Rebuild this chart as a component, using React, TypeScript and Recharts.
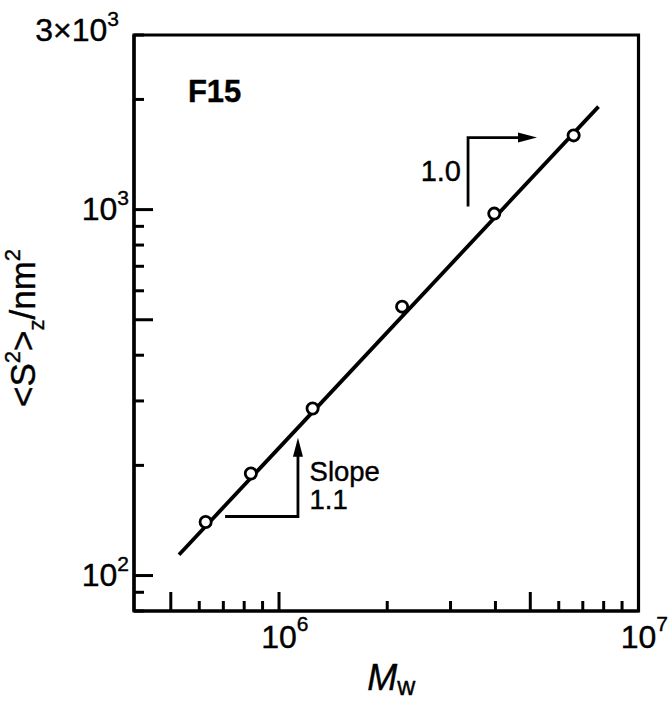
import React from 'react';
import { ScatterChart, Scatter, XAxis, YAxis, ReferenceArea } from 'recharts';

const FONT = '"Liberation Sans", Arial, Helvetica, sans-serif';

// measured data points (M_w, <S^2>_z in nm^2)
const mwValues = [6.25e5, 8.35e5, 1.24e6, 2.2e6, 3.97e6, 6.6e6];
const s2Values = [140, 190, 286, 543, 975, 1595];

// fitted straight line end points
const fitMw = [5.27e5, 7.74e6];
const fitS2 = [114, 1911];

// slope triangle "Slope 1.1"
const slope11Mw = [7.08e5, 1.129e6, 1.129e6];
const slope11S2 = [145, 145, 220];
const slope11TipMw = [1.129e6];
const slope11TipS2 = [238];

// slope triangle "1.0"
const slope10Mw = [3.356e6, 3.356e6, 4.77e6];
const slope10S2 = [1019, 1573, 1573];
const slope10TipMw = [5.22e6];
const slope10TipS2 = [1573];

// text annotations
const panelLabel = 'F15';
const panelMw = [5.58e5];
const panelS2 = [1973];
const slopeLines = ['Slope', '1.1'];
const slopeWordMw = [1.216e6];
const slopeWordS2 = [181.8];
const slope10Text = '1.0';
const slope10TextMw = [3.208e6];
const slope10TextS2 = [1200];

// axes
const xDomain = [3.95e5, 1e7];
const yDomain = [80, 3000];
const xTicks = [5e5, 6e5, 7e5, 8e5, 9e5, 1e6, 2e6, 3e6, 4e6, 5e6, 6e6, 7e6, 8e6, 9e6, 1e7];
const xLongTicks = [5e5, 1e6, 5e6, 1e7];
const xTickLabels = [
  { value: 1e6, base: '10', exp: '6' },
  { value: 1e7, base: '10', exp: '7' },
];
const yTicks = [80, 90, 100, 200, 300, 400, 500, 600, 700, 800, 900, 1000, 2000, 3000];
const yLongTicks = [100, 500, 1000];
const yTickLabels = [
  { value: 100, base: '10', exp: '2' },
  { value: 1000, base: '10', exp: '3' },
  { value: 3000, base: '3×10', exp: '3' },
];

const toPts = (xs: number[], ys: number[]) => xs.map((x, i) => ({ x, y: ys[i] }));

const near = (a: number, b: number) => Math.abs(a - b) / b < 1e-6;

const TXT = { fontFamily: FONT, fill: '#000', stroke: '#000', strokeWidth: 0.4 };

const XTick = (props: any) => {
  const { x, y, payload } = props;
  const v = payload.value;
  const len = xLongTicks.some((t) => near(v, t)) ? 19 : 10;
  const lab = xTickLabels.find((t) => near(v, t.value));
  return (
    <g>
      <line x1={x} y1={y} x2={x} y2={y - len} stroke="#000" strokeWidth={3} />
      {lab && (
        <text x={x - 17.8} y={y + 37} textAnchor="start" fontSize={32} {...TXT}>
          {lab.base}
          <tspan fontSize={21} dy={-17}>{lab.exp}</tspan>
        </text>
      )}
    </g>
  );
};

const YTick = (props: any) => {
  const { x, y, payload } = props;
  const v = payload.value;
  const len = yLongTicks.some((t) => near(v, t)) ? 19 : 10;
  const lab = yTickLabels.find((t) => near(v, t.value));
  const isTop = lab && lab.value === 3000;
  return (
    <g>
      <line x1={x} y1={y} x2={x + len} y2={y} stroke="#000" strokeWidth={3} />
      {lab && (
        <text
          x={isTop ? x - 15 : x - 5}
          y={isTop ? y + 6 : y + 10}
          textAnchor="end"
          fontSize={32}
          {...TXT}
        >
          {lab.base}
          <tspan fontSize={21} dy={-15}>{lab.exp}</tspan>
        </text>
      )}
    </g>
  );
};

const XTitle = (props: any) => {
  const vb = props.viewBox || { x: 134, y: 611, width: 504.5, height: 60 };
  const cx = vb.x + vb.width / 2 + 5;
  const by = vb.y + 79;
  return (
    <text x={cx} y={by} textAnchor="middle" {...TXT}>
      <tspan fontSize={36} fontStyle="italic">M</tspan>
      <tspan fontSize={25} dy={5}>w</tspan>
    </text>
  );
};

const YTitle = (props: any) => {
  const vb = props.viewBox || { x: 34, y: 35, width: 100, height: 576 };
  const cx = vb.x + 1;
  const cy = vb.y + vb.height / 2 + 5;
  return (
    <text
      x={cx}
      y={cy}
      transform={`rotate(-90 ${cx} ${cy})`}
      textAnchor="middle"
      fontSize={35}
      {...TXT}
    >
      {'<S'}
      <tspan fontSize={22} dy={-15}>2</tspan>
      <tspan fontSize={35} dy={15}>{'>'}</tspan>
      <tspan fontSize={22} dy={9}>z</tspan>
      <tspan fontSize={35} dy={-9}>/nm</tspan>
      <tspan fontSize={22} dy={-15}>2</tspan>
    </text>
  );
};

const Empty = () => <g />;

const OpenCircle = (p: any) => (
  <circle cx={p.cx} cy={p.cy} r={5.6} fill="#fff" stroke="#000" strokeWidth={2.8} />
);

const ArrowUp = (p: any) => (
  <polygon
    points={`${p.cx},${p.cy} ${p.cx - 5},${p.cy + 19} ${p.cx + 5},${p.cy + 19}`}
    fill="#000"
  />
);

const ArrowRight = (p: any) => (
  <polygon
    points={`${p.cx},${p.cy} ${p.cx - 19},${p.cy - 5} ${p.cx - 19},${p.cy + 5}`}
    fill="#000"
  />
);

const PanelText = (p: any) => (
  <text x={p.cx} y={p.cy} textAnchor="start" fontSize={31} fontWeight="bold" {...TXT}>
    {panelLabel}
  </text>
);

const SlopeText = (p: any) => (
  <g>
    <text x={p.cx} y={p.cy} textAnchor="start" fontSize={27.5} {...TXT}>
      {slopeLines[0]}
    </text>
    <text x={p.cx} y={p.cy + 28} textAnchor="start" fontSize={27.5} {...TXT}>
      {slopeLines[1]}
    </text>
  </g>
);

const Slope10Text = (p: any) => (
  <text x={p.cx} y={p.cy} textAnchor="end" fontSize={29} {...TXT}>
    {slope10Text}
  </text>
);

export default function App() {
  return (
    <div style={{ position: 'absolute', left: 0, top: 0, width: 670, height: 701, background: '#fff' }}>
      <ScatterChart
        width={670}
        height={701}
        margin={{ top: 35, right: 31.5, bottom: 30, left: 34 }}
      >
        <XAxis
          type="number"
          dataKey="x"
          scale="log"
          domain={xDomain}
          allowDataOverflow
          ticks={xTicks}
          interval={0}
          tick={<XTick />}
          tickLine={false}
          tickSize={0}
          tickMargin={0}
          height={60}
          axisLine={{ stroke: '#000', strokeWidth: 3.2 }}
          label={<XTitle />}
        />
        <YAxis
          type="number"
          dataKey="y"
          scale="log"
          domain={yDomain}
          allowDataOverflow
          ticks={yTicks}
          interval={0}
          tick={<YTick />}
          tickLine={false}
          tickSize={0}
          tickMargin={0}
          width={100}
          axisLine={{ stroke: '#000', strokeWidth: 3.2 }}
          label={<YTitle />}
        />
        <ReferenceArea
          x1={xDomain[0]}
          x2={xDomain[1]}
          y1={yDomain[0]}
          y2={yDomain[1]}
          fill="none"
          fillOpacity={0}
          stroke="#000"
          strokeWidth={3.2}
        />
        <Scatter
          data={toPts(fitMw, fitS2)}
          line={{ stroke: '#000', strokeWidth: 3.8 }}
          stroke="#000"
          shape={Empty}
          isAnimationActive={false}
        />
        <Scatter
          data={toPts(slope11Mw, slope11S2)}
          line={{ stroke: '#000', strokeWidth: 2.8 }}
          stroke="#000"
          shape={Empty}
          isAnimationActive={false}
        />
        <Scatter data={toPts(slope11TipMw, slope11TipS2)} shape={ArrowUp} isAnimationActive={false} />
        <Scatter
          data={toPts(slope10Mw, slope10S2)}
          line={{ stroke: '#000', strokeWidth: 2.8 }}
          stroke="#000"
          shape={Empty}
          isAnimationActive={false}
        />
        <Scatter data={toPts(slope10TipMw, slope10TipS2)} shape={ArrowRight} isAnimationActive={false} />
        <Scatter data={toPts(mwValues, s2Values)} shape={OpenCircle} isAnimationActive={false} />
        <Scatter data={toPts(panelMw, panelS2)} shape={PanelText} isAnimationActive={false} />
        <Scatter data={toPts(slopeWordMw, slopeWordS2)} shape={SlopeText} isAnimationActive={false} />
        <Scatter data={toPts(slope10TextMw, slope10TextS2)} shape={Slope10Text} isAnimationActive={false} />
      </ScatterChart>
    </div>
  );
}
